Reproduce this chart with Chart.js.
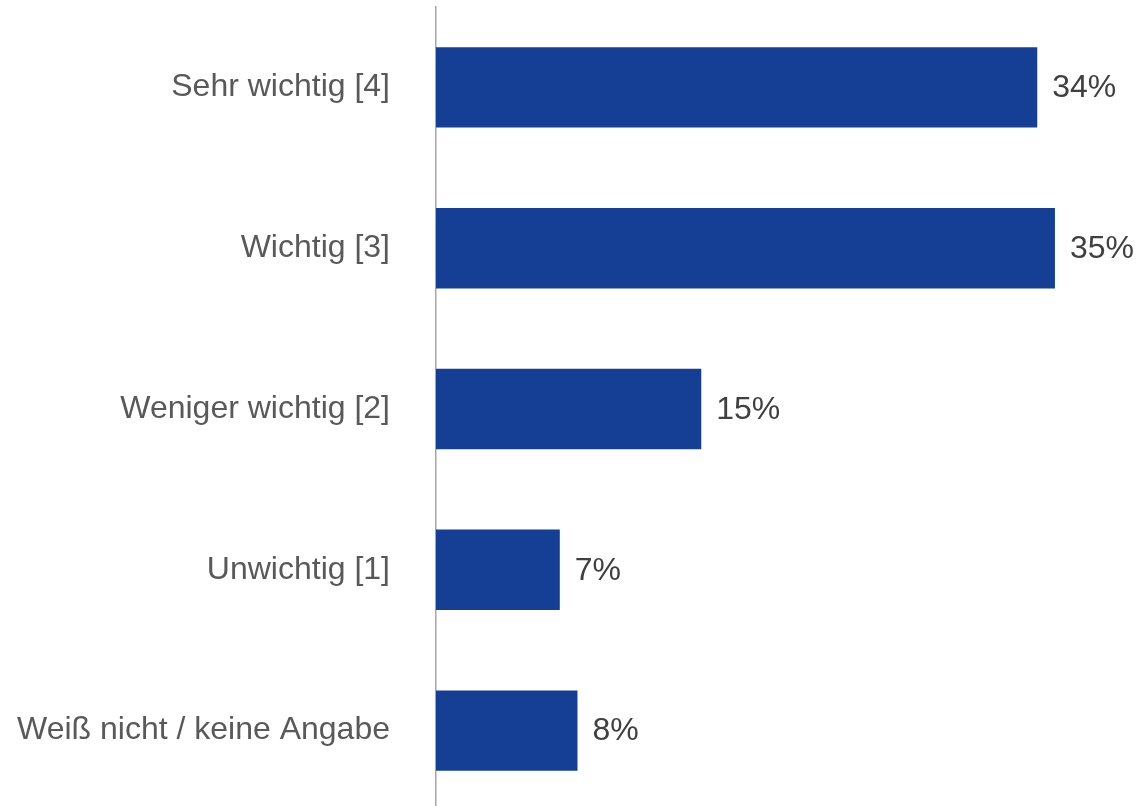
<!DOCTYPE html>
<html>
<head>
<meta charset="utf-8">
<script src="https://cdn.jsdelivr.net/npm/chart.js@4"></script>
<style>
  html, body { margin: 0; padding: 0; background: #ffffff; overflow: hidden; }
  #wrap { width: 1140px; height: 811px; position: relative; }
</style>
</head>
<body>
<div id="wrap"><canvas id="myChart"></canvas></div>
<script>
// chart data
const categories = ['Sehr wichtig [4]', 'Wichtig [3]', 'Weniger wichtig [2]', 'Unwichtig [1]', 'Weiß nicht / keine Angabe'];
const values = [34, 35, 15, 7, 8];
const valueLabels = ['34%', '35%', '15%', '7%', '8%'];

// draws the percent text next to each bar
const valueLabelPlugin = {
    id: 'valueLabels',
    afterDatasetsDraw(chart) {
        const ctx = chart.ctx;
        const meta = chart.getDatasetMeta(0);
        ctx.save();
        ctx.font = '32px "Liberation Sans", Arial, sans-serif';
        ctx.fillStyle = '#404040';
        ctx.textAlign = 'left';
        ctx.textBaseline = 'middle';
        meta.data.forEach(function(bar, i) {
            ctx.fillText(valueLabels[i], bar.x + 15, bar.y + 1);
        });
        ctx.restore();
    }
};

const data = {
    labels: categories,
    datasets: [{
        data: values,
        backgroundColor: '#143F94',
        borderWidth: 0,
        barPercentage: 0.5,
        categoryPercentage: 1.0
    }]
};

const config = {
    type: 'bar',
    data: data,
    options: {
        indexAxis: 'y',
        responsive: true,
        maintainAspectRatio: false,
        animation: false,
        layout: {
            padding: { top: 7, bottom: 0, right: 32, left: 0 }
        },
        plugins: {
            legend: { display: false },
            tooltip: { enabled: false }
        },
        scales: {
            x: {
                display: false,
                min: 0,
                max: 38
            },
            y: {
                afterFit: function(scale) {
                    scale.width = 436;
                    // the tick padding is meant for the left side only
                    scale.paddingTop = 0;
                    scale.paddingBottom = 0;
                },
                grid: { display: false, drawTicks: false },
                border: { display: true, color: '#a6a6a6', width: 1.5 },
                ticks: {
                    padding: 46,
                    color: '#595959',
                    font: { family: '"Liberation Sans", Arial, sans-serif', size: 32 }
                }
            }
        }
    },
    plugins: [valueLabelPlugin]
};

const chart = new Chart(
    document.getElementById('myChart'),
    config
);
</script>
</body>
</html>
